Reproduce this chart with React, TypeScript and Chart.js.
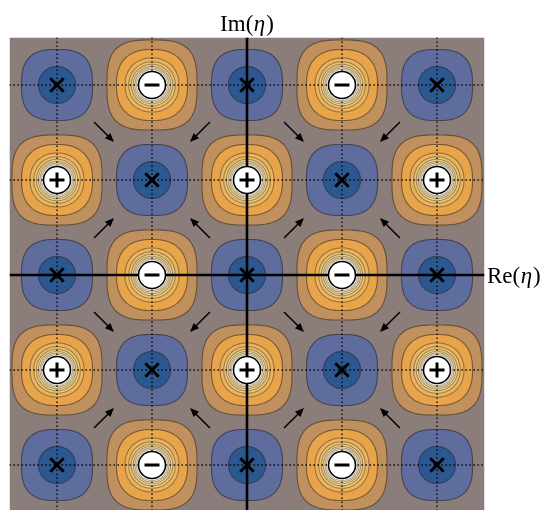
import { useEffect, useRef } from "react";
import { Chart, registerables } from "chart.js";

Chart.register(...registerables);

// ---- data ----
const xCenters = [-2, -1, 0, 1, 2];
const yCenters = [2, 1, 0, -1, -2];
const cellTypes = [
  ["zero", "minus", "zero", "minus", "zero"],
  ["plus", "zero", "plus", "zero", "plus"],
  ["zero", "minus", "zero", "minus", "zero"],
  ["plus", "zero", "plus", "zero", "plus"],
  ["zero", "minus", "zero", "minus", "zero"],
];
const poleLevels = [0.474, 0.374, 0.284, 0.245, 0.218, 0.197, 0.179, 0.163];
const zeroLevels = [0.374, 0.195];
const gridValues = [-2, -1, 1, 2];
const arrowTargets = [
  [-1, 1],
  [1, 1],
  [-1, -1],
  [1, -1],
];
const arrowTailOffset = 0.61;
const arrowHeadOffset = 0.4;
const xRange = [-2.5, 2.5];
const yRange = [-2.4737, 2.5];

// ---- styles ----
const BG = "#8b7d79";
const poleFill = ["#c0905f", "#e8a44b", "#ecb35c", "#f0c473", "#f4d490", "#f8e3b0", "#fcf1d4", "#fffaf2"];
const poleShape = [3.1, 2.45, 2.15, 2.05, 2, 2, 2, 2];
const zeroFill = ["#5e6d9e", "#2c5892"];
const zeroShape = [2.75, 2];
const poleLine = ["rgba(80,62,35,0.75)", "rgba(80,62,35,0.7)", "rgba(90,75,45,0.6)", "rgba(90,75,45,0.55)", "rgba(90,75,45,0.55)", "rgba(90,75,45,0.5)", "rgba(90,75,45,0.5)", "rgba(90,75,45,0.45)"];
const zeroLine = "rgba(45,45,60,0.7)";

function superellipse(ctx: CanvasRenderingContext2D, xs: any, ys: any, cx: number, cy: number, r: number, n: number) {
  const N = 120;
  ctx.beginPath();
  for (let k = 0; k <= N; k++) {
    const t = (k / N) * Math.PI * 2;
    const c = Math.cos(t), s = Math.sin(t);
    const dx = r * Math.sign(c) * Math.pow(Math.abs(c), 2 / n);
    const dy = r * Math.sign(s) * Math.pow(Math.abs(s), 2 / n);
    const px = xs.getPixelForValue(cx + dx);
    const py = ys.getPixelForValue(cy + dy);
    if (k === 0) ctx.moveTo(px, py);
    else ctx.lineTo(px, py);
  }
  ctx.closePath();
}

const contourPlugin = {
  id: "contours",
  beforeDatasetsDraw(chart: any) {
    const { ctx, chartArea: a, scales } = chart;
    const xs = scales.x, ys = scales.y;
    ctx.save();
    ctx.beginPath();
    ctx.rect(a.left, a.top, a.right - a.left, a.bottom - a.top);
    ctx.clip();
    ctx.fillStyle = BG;
    ctx.fillRect(a.left, a.top, a.right - a.left, a.bottom - a.top);

    cellTypes.forEach((row, j) =>
      row.forEach((t, i) => {
        const cx = xCenters[i], cy = yCenters[j];
        const isZero = t === "zero";
        const levels = isZero ? zeroLevels : poleLevels;
        const fills = isZero ? zeroFill : poleFill;
        const shapes = isZero ? zeroShape : poleShape;
        levels.forEach((r, k) => {
          superellipse(ctx, xs, ys, cx, cy, r, shapes[k]);
          ctx.fillStyle = fills[k];
          ctx.fill();
          ctx.strokeStyle = isZero ? zeroLine : poleLine[k];
          ctx.lineWidth = 1.1;
          ctx.stroke();
        });
      })
    );

    // dotted grid
    ctx.strokeStyle = "#000";
    ctx.lineWidth = 1.3;
    ctx.setLineDash([1.4, 2.6]);
    gridValues.forEach((v) => {
      const px = xs.getPixelForValue(v);
      ctx.beginPath();
      ctx.moveTo(px, a.top);
      ctx.lineTo(px, a.bottom);
      ctx.stroke();
      const py = ys.getPixelForValue(v);
      ctx.beginPath();
      ctx.moveTo(a.left, py);
      ctx.lineTo(a.right, py);
      ctx.stroke();
    });
    ctx.setLineDash([]);

    // axes
    ctx.lineWidth = 2.6;
    const x0 = xs.getPixelForValue(0), y0 = ys.getPixelForValue(0);
    ctx.beginPath();
    ctx.moveTo(x0, a.top);
    ctx.lineTo(x0, a.bottom);
    ctx.moveTo(a.left, y0);
    ctx.lineTo(a.right, y0);
    ctx.stroke();

    // arrows
    const dirs = [
      [-1, 1],
      [1, 1],
      [-1, -1],
      [1, -1],
    ];
    ctx.fillStyle = "#000";
    ctx.lineWidth = 1.5;
    arrowTargets.forEach(([tx, ty]) => {
      dirs.forEach(([sx, sy]) => {
        const x1 = xs.getPixelForValue(tx + sx * arrowTailOffset);
        const y1 = ys.getPixelForValue(ty + sy * arrowTailOffset);
        const x2 = xs.getPixelForValue(tx + sx * arrowHeadOffset);
        const y2 = ys.getPixelForValue(ty + sy * arrowHeadOffset);
        const ang = Math.atan2(y2 - y1, x2 - x1);
        const hl = 9, hw = 3.8;
        const bx = x2 - hl * Math.cos(ang), by = y2 - hl * Math.sin(ang);
        ctx.beginPath();
        ctx.moveTo(x1, y1);
        ctx.lineTo(bx + 1 * Math.cos(ang), by + 1 * Math.sin(ang));
        ctx.stroke();
        ctx.beginPath();
        ctx.moveTo(x2, y2);
        ctx.lineTo(bx + hw * Math.sin(ang), by - hw * Math.cos(ang));
        ctx.lineTo(bx - hw * Math.sin(ang), by + hw * Math.cos(ang));
        ctx.closePath();
        ctx.fill();
      });
    });
    ctx.restore();
  },
  afterDraw(chart: any) {
    const { ctx, chartArea: a, scales } = chart;
    const xs = scales.x, ys = scales.y;
    const x0 = xs.getPixelForValue(0), y0 = ys.getPixelForValue(0);
    const up = "23px 'Liberation Serif'";
    const it = "italic 23px 'Liberation Serif'";
    const drawLabel = (prefix: string, left: number, baseline: number, center: boolean) => {
      ctx.save();
      ctx.fillStyle = "#000";
      ctx.textBaseline = "alphabetic";
      ctx.textAlign = "left";
      ctx.font = up;
      const w1 = ctx.measureText(prefix + "(").width;
      const w3 = ctx.measureText(")").width;
      ctx.font = it;
      const w2 = ctx.measureText("η").width + 1.5;
      const total = w1 + w2 + w3;
      let x = center ? left - total / 2 : left;
      ctx.font = up;
      ctx.fillText(prefix + "(", x, baseline);
      x += w1;
      ctx.font = it;
      ctx.fillText("η", x + 0.5, baseline);
      x += w2;
      ctx.font = up;
      ctx.fillText(")", x, baseline);
      ctx.restore();
    };
    drawLabel("Im", x0, 31, true);
    drawLabel("Re", a.right + 2.5, y0 + 8, false);
  },
};

function positions(kind: string) {
  const out: { x: number; y: number }[] = [];
  cellTypes.forEach((row, j) =>
    row.forEach((t, i) => {
      if (kind === "pole" ? t !== "zero" : t === kind) out.push({ x: xCenters[i], y: yCenters[j] });
    })
  );
  return out;
}

export default function App() {
  const ref = useRef<HTMLCanvasElement | null>(null);
  useEffect(() => {
    if (!ref.current) return;
    const chart = new Chart(ref.current, {
      type: "scatter",
      data: {
        datasets: [
          {
            data: positions("zero"),
            pointStyle: "crossRot",
            pointRadius: 9.5,
            borderColor: "#000",
            borderWidth: 3,
            order: 0,
          },
          {
            data: positions("plus"),
            pointStyle: "cross",
            pointRadius: 7.5,
            borderColor: "#000",
            borderWidth: 3,
            order: 0,
          },
          {
            data: positions("minus"),
            pointStyle: "line",
            pointRadius: 7.5,
            borderColor: "#000",
            borderWidth: 3,
            order: 0,
          },
          {
            data: positions("pole"),
            pointStyle: "circle",
            pointRadius: 13.5,
            backgroundColor: "#ffffff",
            borderColor: "#000",
            borderWidth: 1.6,
            order: 10,
          },
        ] as any,
      },
      options: {
        animation: false,
        responsive: true,
        maintainAspectRatio: false,
        events: [],
        layout: { autoPadding: false, padding: { left: 9.5, top: 37.5, right: 75.5, bottom: 0 } },
        plugins: { legend: { display: false }, tooltip: { enabled: false } },
        scales: {
          x: { type: "linear", min: xRange[0], max: xRange[1], display: false },
          y: { type: "linear", min: yRange[0], max: yRange[1], display: false },
        },
      },
      plugins: [contourPlugin],
    });
    return () => chart.destroy();
  }, []);
  return (
    <div style={{ position: "absolute", left: 0, top: 0, width: 560, height: 510, overflow: "hidden", background: "#fff" }}>
      <canvas ref={ref} />
    </div>
  );
}
